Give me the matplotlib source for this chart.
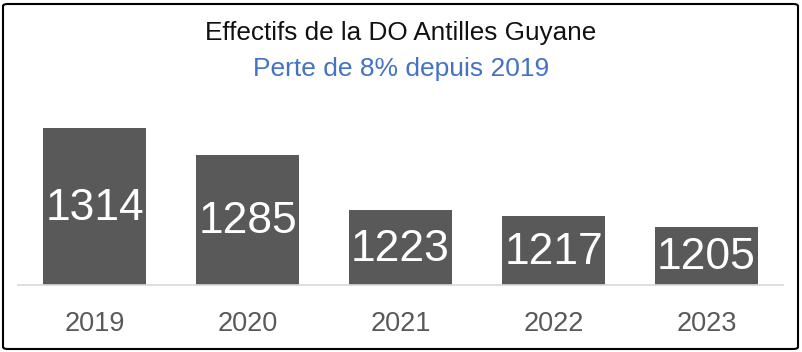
import matplotlib
matplotlib.use('Agg')
import matplotlib.pyplot as plt
from matplotlib.patches import FancyBboxPatch

# donnees
annees = ['2019', '2020', '2021', '2022', '2023']
effectifs = [1314, 1285, 1223, 1217, 1205]

titre = 'Effectifs de la DO Antilles Guyane'
sous_titre = 'Perte de 8% depuis 2019'

plt.rcParams['font.family'] = ['Liberation Sans', 'DejaVu Sans']

fig = plt.figure(figsize=(8.02, 3.52), dpi=100)
ax = fig.add_axes([18/802, 67/352, 765/802, 185/352])

x = range(len(annees))
ax.bar(x, effectifs, width=0.667, color='#595959', zorder=2)
for xi, v in zip(x, effectifs):
    ax.text(xi, (1140 + v) / 2 - 2, str(v), ha='center', va='center',
            color='white', fontsize=32)

ax.set_xlim(-0.5, len(annees) - 0.5)
ax.set_ylim(1140, 1345.6)
ax.set_xticks(list(x))
ax.set_xticklabels(annees, fontsize=19.5, color='#595959')
ax.tick_params(axis='x', length=0, pad=19)
ax.set_yticks([])
for s in ['top', 'left', 'right']:
    ax.spines[s].set_visible(False)
ax.spines['bottom'].set_color('#d9d9d9')
ax.spines['bottom'].set_linewidth(1.2)

fig.text(0.5, 1 - 33/352, titre, ha='center', va='center', fontsize=18.8,
         color='#111111')
fig.text(0.5, 1 - 69/352, sous_titre, ha='center', va='center', fontsize=19,
         color='#4472c4')

cadre = FancyBboxPatch((3/802, 3/352), 795/802, 345/352,
                       boxstyle='round,pad=0,rounding_size=0.006',
                       transform=fig.transFigure, fill=False,
                       edgecolor='black', linewidth=1.5)
fig.patches.append(cadre)

fig.savefig('out.png', dpi=100)
